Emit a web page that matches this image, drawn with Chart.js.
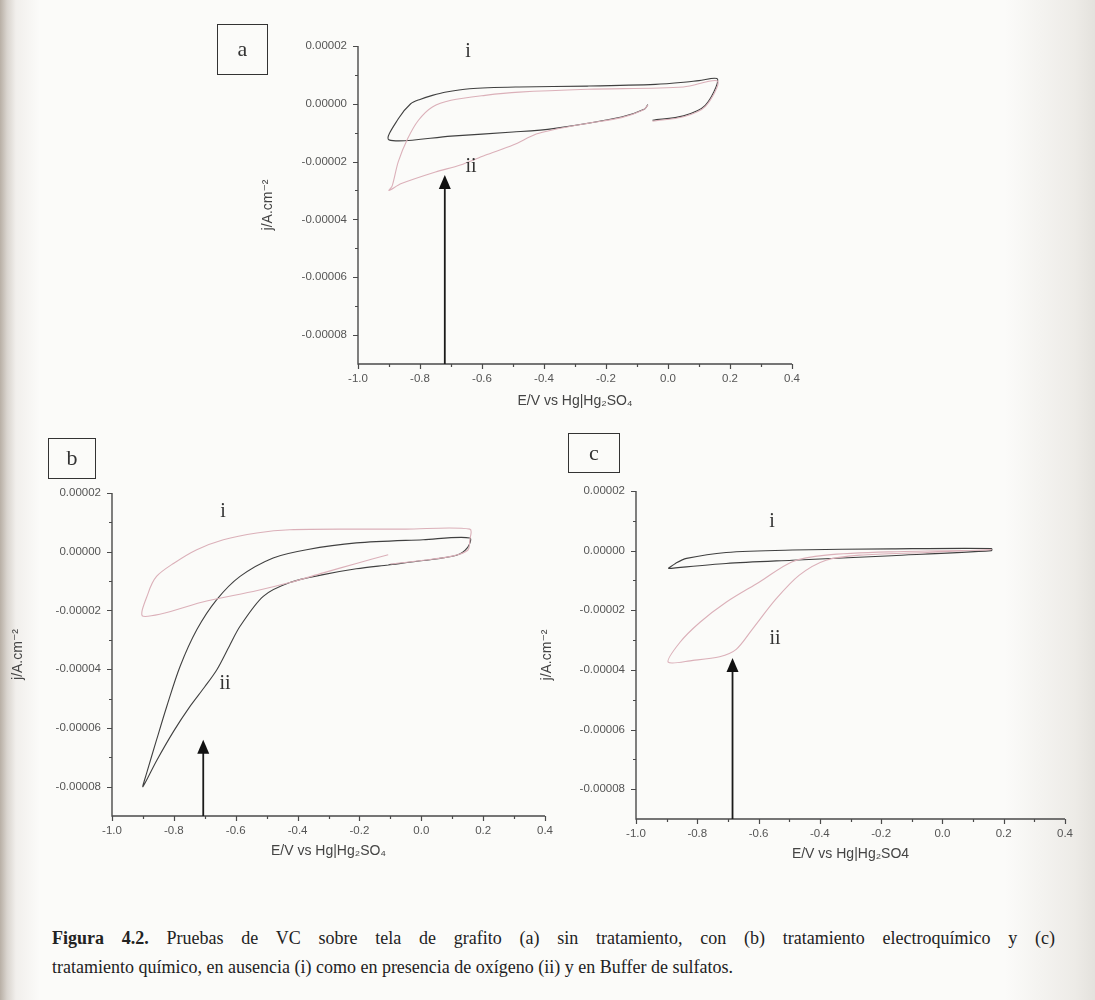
<!DOCTYPE html>
<html><head><meta charset="utf-8">
<script src="https://cdn.jsdelivr.net/npm/chart.js@4.4.1/dist/chart.umd.min.js"></script>
<style>
html,body{margin:0;padding:0;}
body{width:1095px;height:1000px;position:relative;overflow:hidden;background:#fbfbf9;font-family:"Liberation Serif","Times New Roman",serif;}
#edgeL{position:absolute;left:0;top:0;width:40px;height:1000px;background:linear-gradient(to right,#b8afa5 0px,#d9d4ce 7px,#f1efec 16px,rgba(251,251,249,0) 40px);}
#edgeR{position:absolute;right:0;top:0;width:90px;height:1000px;background:linear-gradient(to left,#e4e2dd 0px,#edebe7 20px,rgba(251,251,249,0) 90px);}
canvas{position:absolute;}
.box{position:absolute;border:1.5px solid #333;box-sizing:border-box;font-size:22px;color:#333;text-align:center;}
.lab{position:absolute;font-size:20px;color:#333;transform:translate(-50%,-50%);line-height:1;}
.cap{position:absolute;left:52px;width:1003px;font-size:18px;line-height:29px;color:#222;white-space:nowrap;}
#cap1{top:924px;text-align:justify;text-align-last:justify;white-space:normal;}
#cap2{top:953px;}
</style></head>
<body>
<div id="edgeL"></div><div id="edgeR"></div>
<canvas id="cA" width="552" height="385" style="left:256px;top:28px"></canvas>
<canvas id="cB" width="555" height="393" style="left:6px;top:470px"></canvas>
<canvas id="cC" width="546" height="396" style="left:535px;top:470px"></canvas>
<div class="box" style="left:217px;top:24px;width:51px;height:51px;line-height:48px">a</div>
<div class="box" style="left:48px;top:438px;width:48px;height:41px;line-height:38px">b</div>
<div class="box" style="left:568px;top:433px;width:52px;height:40px;line-height:37px">c</div>
<div class="lab" style="left:468px;top:50px">i</div>
<div class="lab" style="left:471px;top:165px">ii</div>
<div class="lab" style="left:223px;top:510px">i</div>
<div class="lab" style="left:225px;top:682px">ii</div>
<div class="lab" style="left:772px;top:520px">i</div>
<div class="lab" style="left:775px;top:637px">ii</div>
<div class="cap" id="cap1"><b>Figura 4.2.</b> Pruebas de VC sobre tela de grafito (a) sin tratamiento, con (b) tratamiento electroquímico y (c)</div>
<div class="cap" id="cap2">tratamiento químico, en ausencia (i) como en presencia de oxígeno (ii) y en Buffer de sulfatos.</div>
<script>
// ---- axes ----
const xTicks = [-1.0, -0.8, -0.6, -0.4, -0.2, 0.0, 0.2, 0.4];
const xMinor = [-0.9, -0.7, -0.5, -0.3, -0.1, 0.1, 0.3];
const yTicks = [-0.00008, -0.00006, -0.00004, -0.00002, 0.00000, 0.00002];
const yMinor = [-0.00007, -0.00005, -0.00003, -0.00001, 0.00001];
const yTitle = 'j/A.cm⁻²';
const xTitleA = 'E/V vs Hg|Hg₂SO₄';
const xTitleB = 'E/V vs Hg|Hg₂SO₄';
const xTitleC = 'E/V vs Hg|Hg₂SO4';

// ---- panel a (sin tratamiento) ----
const aE_i  = [-0.05, 0.05, 0.12, 0.16, 0.10, 0.06, -0.04, -0.26, -0.48, -0.64, -0.72, -0.76, -0.80, -0.83, -0.87, -0.90, -0.70, -0.50, -0.37, -0.15, -0.075, -0.065];
const aJ_i  = [-0.57e-5, -0.42e-5, -0.06e-5, 0.85e-5, 0.80e-5, 0.75e-5, 0.67e-5, 0.61e-5, 0.58e-5, 0.52e-5, 0.40e-5, 0.29e-5, 0.15e-5, 0.0, -0.52e-5, -1.25e-5, -1.12e-5, -0.98e-5, -0.86e-5, -0.46e-5, -0.18e-5, -0.03e-5];
const aE_ii = [-0.05, 0.05, 0.12, 0.16, 0.05, -0.26, -0.48, -0.59, -0.70, -0.76, -0.805, -0.84, -0.87, -0.89, -0.90, -0.86, -0.75, -0.67, -0.59, -0.50, -0.425, -0.37, -0.26, -0.15, -0.08, -0.065];
const aJ_ii = [-0.60e-5, -0.45e-5, -0.10e-5, 0.78e-5, 0.58e-5, 0.50e-5, 0.40e-5, 0.29e-5, 0.12e-5, -0.11e-5, -0.57e-5, -1.21e-5, -2.0e-5, -2.85e-5, -3.0e-5, -2.76e-5, -2.36e-5, -2.12e-5, -1.78e-5, -1.43e-5, -1.05e-5, -0.90e-5, -0.68e-5, -0.48e-5, -0.22e-5, -0.05e-5];
const aArrow = {e: -0.72, j: -2.46e-5};

// ---- panel b (tratamiento electroquímico) ----
const bE_i  = [-0.10, 0.0, 0.10, 0.15, 0.157, 0.157, -0.05, -0.21, -0.425, -0.532, -0.64, -0.726, -0.80, -0.856, -0.883, -0.899, -0.694, -0.53, -0.425, -0.317, -0.21, -0.107];
const bJ_i  = [-0.42e-5, -0.30e-5, -0.15e-5, 0.05e-5, 0.40e-5, 0.77e-5, 0.77e-5, 0.77e-5, 0.75e-5, 0.64e-5, 0.41e-5, 0.07e-5, -0.39e-5, -0.84e-5, -1.41e-5, -2.20e-5, -1.68e-5, -1.32e-5, -1.05e-5, -0.72e-5, -0.40e-5, -0.10e-5];
const bE_ii = [-0.107, 0.006, 0.114, 0.15, 0.157, 0.006, -0.21, -0.371, -0.479, -0.586, -0.662, -0.726, -0.78, -0.823, -0.856, -0.888, -0.90, -0.855, -0.80, -0.75, -0.70, -0.66, -0.62, -0.586, -0.511, -0.425, -0.317, -0.21, -0.107];
const bJ_ii = [-0.45e-5, -0.30e-5, -0.12e-5, 0.15e-5, 0.47e-5, 0.41e-5, 0.30e-5, 0.07e-5, -0.21e-5, -0.84e-5, -1.64e-5, -2.66e-5, -3.91e-5, -5.27e-5, -6.41e-5, -7.54e-5, -8.0e-5, -7.1e-5, -6.1e-5, -5.3e-5, -4.6e-5, -4.0e-5, -3.2e-5, -2.54e-5, -1.52e-5, -1.05e-5, -0.78e-5, -0.58e-5, -0.45e-5];
const bArrow = {e: -0.705, j: -6.4e-5};

// ---- panel c (tratamiento químico) ----
const cE_i  = [-0.895, -0.87, -0.835, -0.706, -0.49, -0.165, 0.16, 0.16, -0.165, -0.49, -0.706, -0.895];
const cJ_i  = [-0.60e-5, -0.42e-5, -0.26e-5, -0.06e-5, 0.02e-5, 0.06e-5, 0.07e-5, 0.0, -0.17e-5, -0.32e-5, -0.43e-5, -0.60e-5];
const cE_ii = [0.16, -0.165, -0.38, -0.49, -0.597, -0.706, -0.792, -0.857, -0.895, -0.814, -0.727, -0.673, -0.62, -0.543, -0.467, -0.38, -0.27, -0.05, 0.16];
const cJ_ii = [0.02e-5, -0.04e-5, -0.15e-5, -0.37e-5, -1.05e-5, -1.73e-5, -2.41e-5, -3.08e-5, -3.74e-5, -3.68e-5, -3.56e-5, -3.31e-5, -2.63e-5, -1.62e-5, -0.82e-5, -0.32e-5, -0.15e-5, -0.06e-5, 0.04e-5];
const cArrow = {e: -0.685, j: -3.6e-5};

const DARK = '#404040';
const PINK = '#dbb0b9';
const SANS = '"Liberation Sans", Arial, "DejaVu Sans", sans-serif';

function pts(E, J){ return E.map((e, k) => ({x: e, y: J[k]})); }
function ds(E, J, color){
  return {data: pts(E, J), showLine: true, borderColor: color, borderWidth: 1.1,
          pointRadius: 0, tension: 0.3, fill: false};
}

const axisDecor = {
  id: 'axisDecor',
  afterDatasetsDraw(chart, args, opts){
    const {ctx, chartArea: {left, right, top, bottom}, scales: {x, y}} = chart;
    ctx.save();
    ctx.strokeStyle = '#4a4a4a';
    ctx.lineWidth = 1.4;
    ctx.beginPath();
    ctx.moveTo(left, top); ctx.lineTo(left, bottom); ctx.lineTo(right, bottom);
    ctx.stroke();
    ctx.lineWidth = 1.2;
    ctx.beginPath();
    xTicks.forEach(v => { const p = Math.round(x.getPixelForValue(v)) + 0.5; ctx.moveTo(p, bottom); ctx.lineTo(p, bottom + 5); });
    xMinor.forEach(v => { const p = Math.round(x.getPixelForValue(v)) + 0.5; ctx.moveTo(p, bottom); ctx.lineTo(p, bottom + 3); });
    yTicks.forEach(v => { const p = Math.round(y.getPixelForValue(v)) + 0.5; ctx.moveTo(left, p); ctx.lineTo(left - 5, p); });
    yMinor.forEach(v => { const p = Math.round(y.getPixelForValue(v)) + 0.5; ctx.moveTo(left, p); ctx.lineTo(left - 3, p); });
    ctx.stroke();
    // arrow
    const ax = x.getPixelForValue(opts.e);
    const ty = y.getPixelForValue(opts.j);
    ctx.strokeStyle = '#1a1a1a'; ctx.fillStyle = '#111';
    ctx.lineWidth = 1.8;
    ctx.beginPath(); ctx.moveTo(ax, bottom); ctx.lineTo(ax, ty + 12); ctx.stroke();
    ctx.beginPath(); ctx.moveTo(ax, ty); ctx.lineTo(ax - 6, ty + 14); ctx.lineTo(ax + 6, ty + 14); ctx.closePath(); ctx.fill();
    ctx.restore();
  }
};

function build(id, datasets, arrow, xTitle, geo){
  return new Chart(document.getElementById(id), {
    type: 'scatter',
    data: {datasets},
    options: {
      responsive: false, animation: false, events: [],
      layout: {padding: {top: geo.padTop, right: 15, left: 0, bottom: 0}},
      plugins: {legend: {display: false}, tooltip: {enabled: false}, axisDecor: arrow},
      scales: {
        x: {
          type: 'linear', min: -1.0, max: 0.4,
          afterBuildTicks: s => { s.ticks = xTicks.map(v => ({value: v})); },
          afterFit: s => { s.height = geo.xH; },
          grid: {display: false, drawTicks: false}, border: {display: false},
          ticks: {padding: 8, color: '#555', autoSkip: false, maxRotation: 0,
                  font: {family: SANS, size: 11.5}, callback: v => Number(v).toFixed(1)},
          title: {display: true, text: xTitle, color: '#444', font: {family: SANS, size: 14},
                  padding: {top: 0, bottom: 3}}
        },
        y: {
          type: 'linear', min: -0.00009, max: 0.00002,
          afterBuildTicks: s => { s.ticks = yTicks.map(v => ({value: v})); },
          afterFit: s => { s.width = geo.yW; },
          grid: {display: false, drawTicks: false}, border: {display: false},
          ticks: {padding: 11, color: '#555', autoSkip: false,
                  font: {family: SANS, size: 11.5}, callback: v => Number(v).toFixed(5)},
          title: {display: true, text: yTitle, color: '#444', font: {family: SANS, size: 14},
                  padding: {top: 4, bottom: 0}}
        }
      }
    },
    plugins: [axisDecor]
  });
}

build('cA', [ds(aE_ii, aJ_ii, PINK), ds(aE_i, aJ_i, DARK)], aArrow, xTitleA, {padTop: 16, yW: 102, xH: 49});
build('cB', [ds(bE_i, bJ_i, PINK), ds(bE_ii, bJ_ii, DARK)], bArrow, xTitleB, {padTop: 23, yW: 106, xH: 47});
build('cC', [ds(cE_ii, cJ_ii, PINK), ds(cE_i, cJ_i, DARK)], cArrow, xTitleC, {padTop: 21, yW: 101, xH: 47});
</script>
</body></html>
